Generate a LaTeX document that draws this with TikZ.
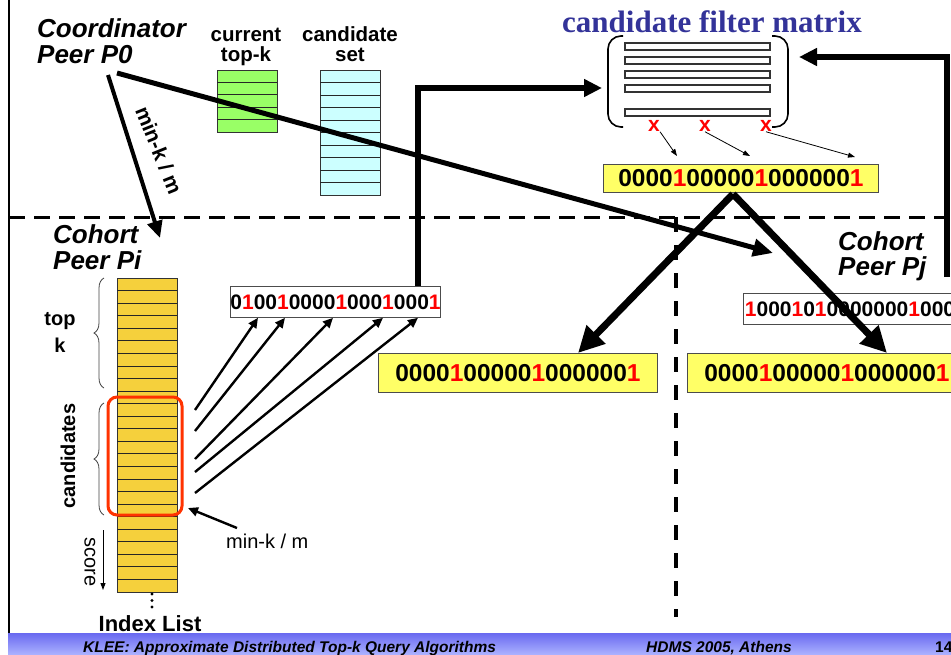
\documentclass[tikz,border=0pt]{standalone}
\usepackage{fontspec}
\setmainfont{Liberation Sans}
\newfontfamily\titlefont{Liberation Serif}
\usetikzlibrary{arrows.meta,decorations.pathreplacing,calc}
\definecolor{bitred}{RGB}{255,0,0}
\definecolor{boxred}{RGB}{255,51,0}
\definecolor{titleblue}{RGB}{51,51,153}
\definecolor{bityellow}{RGB}{255,255,102}
\definecolor{listgold}{RGB}{245,208,60}
\definecolor{topgreen}{RGB}{153,255,102}
\definecolor{candcyan}{RGB}{204,255,255}
\definecolor{bandtop}{RGB}{105,105,240}
\definecolor{bandbot}{RGB}{170,176,255}
\newcommand\rb[1]{\textcolor{bitred}{#1}}
\newcommand\fs[1]{\fontsize{#1}{#1}\selectfont}
\begin{document}
\begin{tikzpicture}[x=1pt,y=-1pt,
  peer/.style={font=\fs{26}\bfseries\itshape, inner sep=0, anchor=base west},
  head/.style={font=\fs{20.5}\bfseries, inner sep=0, anchor=base},
  stackbox/.style={draw=black!80, line width=0.8, anchor=north west, inner sep=0, minimum width=60},
  rowline/.style={draw=black!85, line width=0.8},
  bitbox/.style={draw=black!70, line width=0.8, fill=white, inner sep=0, font=\fs{21}\bfseries},
  ybox/.style={draw=black!70, line width=0.8, fill=bityellow, inner sep=0, font=\fs{24.5}\bfseries},
  mbar/.style={draw=black!80, line width=1.1, fill=white},
  thick1/.style={line width=5, -{Triangle[length=20pt,width=17pt]}},
  thick2/.style={line width=7, -{Triangle[length=26pt,width=25pt]}},
  thin1/.style={line width=2.4, -{Triangle[length=10pt,width=9pt]}},
  tiny1/.style={line width=0.8, -{Triangle[length=7pt,width=5pt]}},
  bracebr/.style={draw=black!75, line width=0.8, decorate, decoration={brace, amplitude=10pt}},
  divider/.style={line width=3, dash pattern=on 16pt off 9pt},
]
\useasboundingbox (0,0) rectangle (951,654);
\clip (0,0) rectangle (951,654);

% frame and dividers
\draw[line width=2] (9,0) -- (9,634);
\draw[divider] (9,217) -- (951,217);
\draw[line width=4, dash pattern=on 15pt off 13pt] (676,217) -- (676,617);

% footer band
\shade[top color=bandtop, bottom color=bandbot] (8,633) rectangle (951,654);
\node[font=\fs{15.5}\bfseries\itshape, inner sep=0, anchor=base west] (ftitle) at (83,652) {KLEE: Approximate Distributed Top-k Query Algorithms};
\node[font=\fs{15.5}\bfseries\itshape, inner sep=0, anchor=base] (fconf) at (719,652) {HDMS 2005, Athens};
\node[font=\fs{15.5}\bfseries, inner sep=0, anchor=base west] (fpage) at (935,652) {14};

% coordinator
\node[peer] (coordA) at (37,37) {Coordinator};
\node[peer] (coordB) at (37,63) {Peer P0};
\node[head] (curA) at (246,41) {current};
\node[head] (curB) at (246,61) {top-k};
\node[head] (candA) at (350,41) {candidate};
\node[head] (candB) at (350,61) {set};

% current top-k and candidate set stacks
\node[stackbox, fill=topgreen, minimum height=62] (topk) at (217,70) {};
\foreach \i in {1,...,4} \draw[rowline] (217,{70+\i*12.4}) -- (277,{70+\i*12.4});
\node[stackbox, fill=candcyan, minimum height=125] (cset) at (320,70) {};
\foreach \i in {1,...,9} \draw[rowline] (320,{70+\i*12.5}) -- (380,{70+\i*12.5});

% candidate filter matrix
\node[font=\fs{31}\titlefont\bfseries, text=titleblue, inner sep=0, anchor=base] (mtitle) at (712,32) {candidate filter matrix};
\draw[line width=1.6, rounded corners=13] (623,36) -- (608,36) -- (608,127) -- (623,127);
\draw[line width=1.6, rounded corners=13] (772,36) -- (788,36) -- (788,127) -- (772,127);
\foreach \y in {43,57,71,85,109} \draw[mbar] (625,\y) rectangle (770,\y+7);
\node[font=\fs{21}\bfseries, text=bitred, inner sep=0] (xa) at (654,126) {x};
\node[font=\fs{21}\bfseries, text=bitred, inner sep=0] (xb) at (705,126) {x};
\node[font=\fs{21}\bfseries, text=bitred, inner sep=0] (xc) at (766,126) {x};

\node[ybox, anchor=north west, minimum width=275, minimum height=28] (ytop) at (603,164) {0000\rb{1}00000\rb{1}000000\rb{1}};
\draw[tiny1] (xa.south east) -- (677,156);
\draw[tiny1] (xb.south) -- (750,156);
\draw[tiny1] (xc.south) -- (855,157);

% cohort peer Pi
\node[peer] (piA) at (53,243) {Cohort};
\node[peer] (piB) at (53,269) {Peer Pi};
\node[stackbox, fill=listgold, minimum height=314] (idx) at (117,278) {};
\foreach \i in {1,...,24} \draw[rowline] (117,{278+\i*12.56}) -- (177,{278+\i*12.56});
\foreach \y in {594,600.5,607} \fill (152,\y) circle (1.6);
\node[font=\fs{22}\bfseries, inner sep=0, anchor=base] (idxlbl) at (150,631) {Index List};
\draw[boxred, line width=3, rounded corners=9] (108,397) rectangle (182,515);

\draw[bracebr] (104,388) -- (104,278);
\node[font=\fs{20}\bfseries, inner sep=0, anchor=base] (topA) at (60,325) {top};
\node[font=\fs{20}\bfseries, inner sep=0, anchor=base] (topB) at (60,352) {k};
\draw[bracebr] (104,515) -- (104,403);
\node[font=\fs{20}\bfseries, inner sep=0, rotate=90] (candlbl) at (68,456) {candidates};
\node[font=\fs{20}, inner sep=0, rotate=-90] (scorelbl) at (90,562) {score};
\draw[line width=0.9, -{Triangle[length=7pt,width=5pt]}] (103,530) -- (103,590);

\node[font=\fs{20}, inner sep=0, anchor=base west] (minklbl) at (226,548) {min-k / m};
\coordinate (minkfrom) at (237,528);
\draw[thin1] (minkfrom) -- (188,508);

\node[bitbox, anchor=north west, minimum width=210, minimum height=31] (pibits) at (230,286) {0\rb{1}00\rb{1}0000\rb{1}000\rb{1}000\rb{1}};
\coordinate (s1) at (195,410);
\coordinate (s2) at (195,431);
\coordinate (s3) at (195,459);
\coordinate (s4) at (195,472);
\coordinate (s5) at (195,493);
\draw[thin1] (s1) -- ($(pibits.south west)+(28,0)$);
\draw[thin1] (s2) -- ($(pibits.south west)+(55,0)$);
\draw[thin1] (s3) -- ($(pibits.south west)+(103,0)$);
\draw[thin1] (s4) -- ($(pibits.south west)+(153,0)$);
\draw[thin1] (s5) -- ($(pibits.south west)+(188,0)$);

% cohort peer Pj
\node[peer] (pjA) at (838,250) {Cohort};
\node[peer] (pjB) at (838,275) {Peer Pj};
\node[bitbox, anchor=north west, minimum height=31, inner xsep=1.5] (pjbits) at (743,293) {\rb{1}000\rb{1}0\rb{1}0000000\rb{1}000\rb{1}};

% filtered vectors sent back to the peers
\node[ybox, anchor=north west, minimum width=279, minimum height=39] (yleft) at (378,353) {0000\rb{1}00000\rb{1}000000\rb{1}};
\node[ybox, anchor=north west, minimum width=279, minimum height=39] (yright) at (687,353) {0000\rb{1}00000\rb{1}000000\rb{1}};
\coordinate (apex) at (733,194);
\draw[thick2] (apex) -- ($(yleft.north west)+(200,0)$);
\draw[thick2] (apex) -- ($(yright.north west)+(200,0)$);

% messages from the coordinator
\coordinate (p0a) at (117,73);
\coordinate (p0b) at (108,75);
\coordinate (pjin) at (773,253);
\coordinate (piin) at (160,238);
\draw[thick1] (p0a) -- (pjin);
\draw[line width=4, -{Triangle[length=17pt,width=15pt]}] (p0b) -- (piin);
\node[font=\fs{21}\bfseries, inner sep=0, rotate=-68] (minkmsg) at (159,150) {min-k / m};

% local bit vectors sent to the matrix
\coordinate (mtxL) at (602,88);
\coordinate (mtxR) at (799,57);
\coordinate (pjup) at (946.5,277);
\draw[line width=6, -{Triangle[length=18pt,width=17pt]}] ($(pibits.north west)+(188,0)$) |- (mtxL);
\draw[line width=6, -{Triangle[length=18pt,width=17pt]}] (pjup) |- (mtxR);
\end{tikzpicture}
\end{document}
